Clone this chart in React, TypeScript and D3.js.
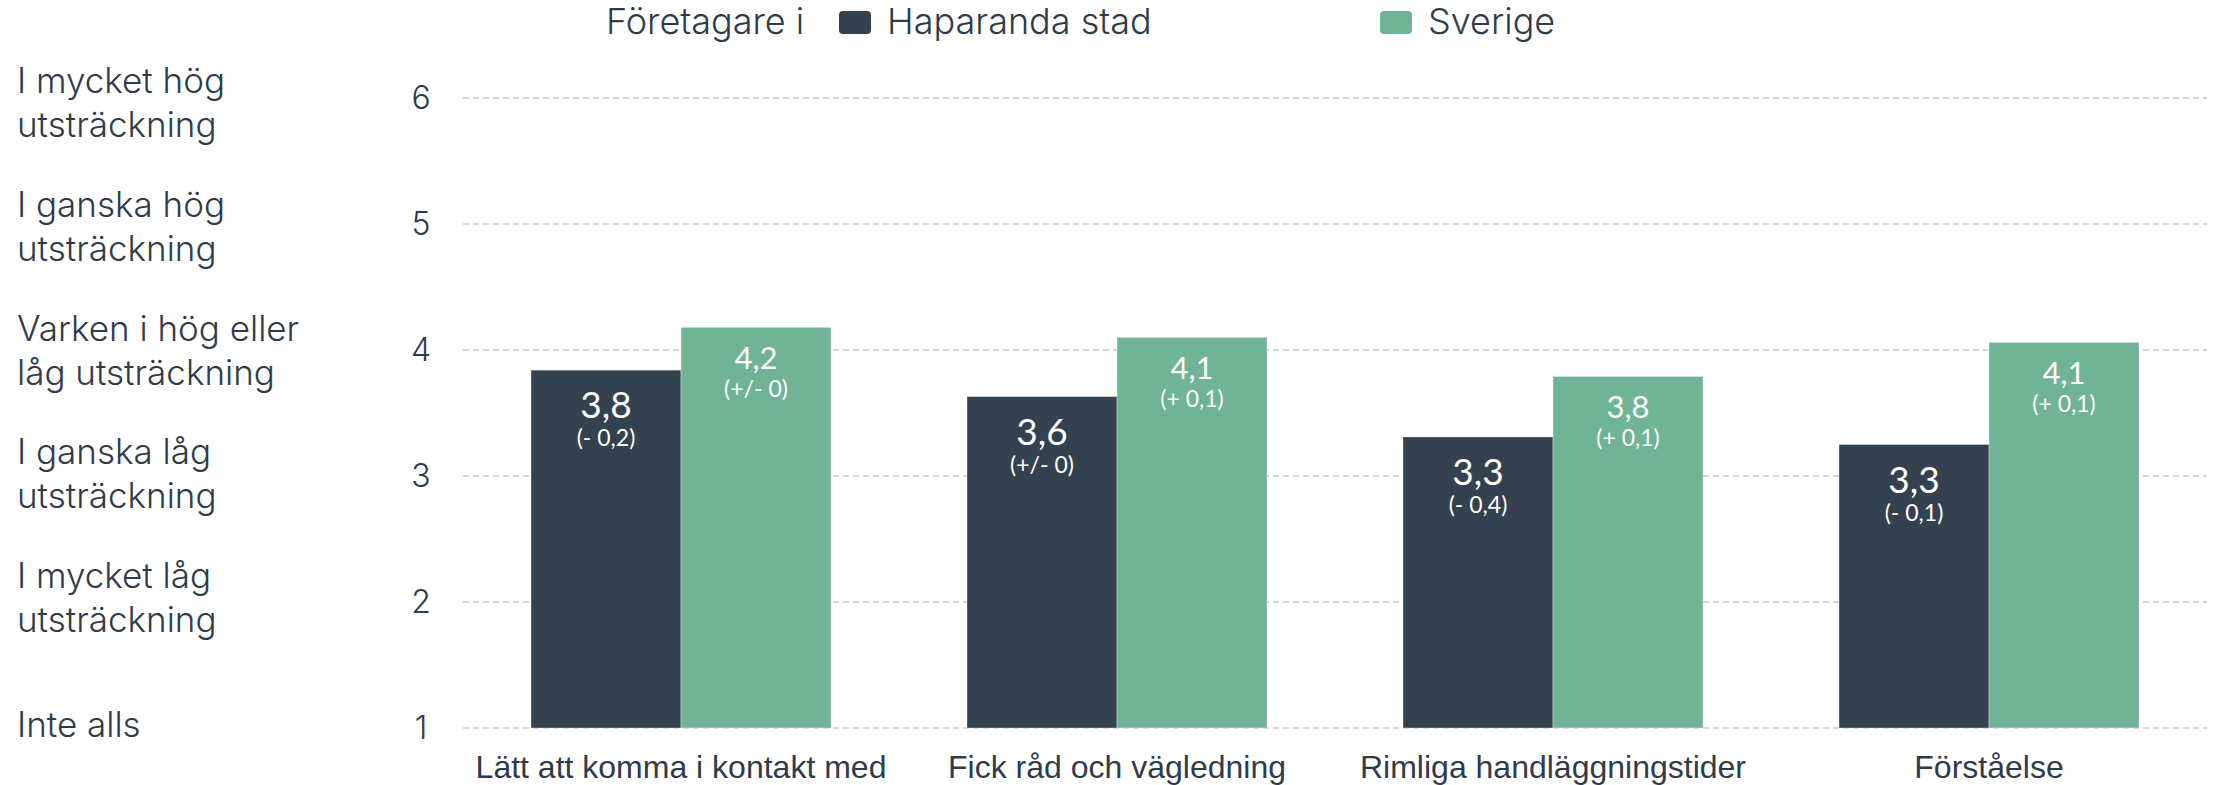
import React from "react";
import * as d3 from "d3";

// data
const categories = [
  "Lätt att komma i kontakt med",
  "Fick råd och vägledning",
  "Rimliga handläggningstider",
  "Förståelse",
];
const seriesNames = ["Haparanda stad", "Sverige"];
const haparandaValues = [3.84, 3.63, 3.31, 3.25];
const sverigeValues = [4.18, 4.1, 3.79, 4.06];
const haparandaLabels = ["3,8", "3,6", "3,3", "3,3"];
const sverigeLabels = ["4,2", "4,1", "3,8", "4,1"];
const haparandaChange = ["(- 0,2)", "(+/- 0)", "(- 0,4)", "(- 0,1)"];
const sverigeChange = ["(+/- 0)", "(+ 0,1)", "(+ 0,1)", "(+ 0,1)"];
const yTicks = [1, 2, 3, 4, 5, 6];
const scaleLabels = [
  ["Inte alls"],
  ["I mycket låg", "utsträckning"],
  ["I ganska låg", "utsträckning"],
  ["Varken i hög eller", "låg utsträckning"],
  ["I ganska hög", "utsträckning"],
  ["I mycket hög", "utsträckning"],
];

const W = 2216;
const H = 785;
const plotLeft = 463;
const plotRight = 2207;
const plotTop = 98;
const plotBottom = 728;

const darkColor = "#34414f";
const greenColor = "#70b397";
const textColor = "#2f3b4a";
const sansFont = "Inter, 'Open Sans', sans-serif";
const valueFont = "Lato, 'Open Sans', sans-serif";
const axisFont = "'Liberation Sans', Arial, sans-serif";

const series = [
  {
    name: seriesNames[0],
    values: haparandaValues,
    labels: haparandaLabels,
    change: haparandaChange,
    color: darkColor,
    valueSize: 37,
    valueDy: 48,
    changeDy: 76,
  },
  {
    name: seriesNames[1],
    values: sverigeValues,
    labels: sverigeLabels,
    change: sverigeChange,
    color: greenColor,
    valueSize: 31,
    valueDy: 42,
    changeDy: 70,
  },
];

const GridLines = ({ y }) => (
  <g>
    {yTicks.map((t) => (
      <g key={t} transform={`translate(0,${y(t)})`}>
        <line
          x1={plotLeft}
          x2={plotRight}
          y1="0"
          y2="0"
          stroke="#c9c9c9"
          strokeWidth="1.3"
          strokeDasharray="6,4"
        />
        <text
          x="421"
          y="11"
          textAnchor="middle"
          fontFamily={sansFont}
          fontWeight="300"
          fontSize="32"
          fill={textColor}
        >
          {t}
        </text>
      </g>
    ))}
  </g>
);

const ScaleLabels = () => {
  // first-line baselines of the two-line labels
  const labelY = d3.scaleLinear().domain([6, 2]).range([93, 588]);
  return (
    <g fontFamily={sansFont} fontWeight="300" fontSize="35" fill={textColor}>
      {scaleLabels.map((lines, i) => {
        const tick = yTicks[i];
        const base = lines.length === 1 ? labelY(tick) + 25 : labelY(tick);
        return (
          <text key={i} x="17" y={base}>
            {lines.map((l, k) => (
              <tspan key={k} x="17" dy={k === 0 ? 0 : 44}>
                {l}
              </tspan>
            ))}
          </text>
        );
      })}
    </g>
  );
};

const Bars = ({ x, inner, y }) => (
  <g>
    {series.map((s, j) => (
      <g key={j}>
        {s.values.map((v, i) => {
          const bx = x(categories[i]) + inner(String(j));
          const by = y(v);
          const cx = bx + inner.bandwidth() / 2;
          return (
            <g key={i}>
              <rect
                x={bx}
                y={by}
                width={inner.bandwidth()}
                height={y(1) - by}
                fill={s.color}
                stroke="#ffffff"
                strokeOpacity="0.35"
                strokeWidth="1"
              />
              <text
                x={cx}
                y={by + s.valueDy}
                textAnchor="middle"
                fontFamily={valueFont}
                fontSize={s.valueSize}
                fill="#ffffff"
              >
                {s.labels[i]}
              </text>
              <text
                x={cx}
                y={by + s.changeDy}
                textAnchor="middle"
                fontFamily={valueFont}
                fontSize="23"
                fill="#ffffff"
              >
                {s.change[i]}
              </text>
            </g>
          );
        })}
      </g>
    ))}
  </g>
);

const XLabels = ({ x }) => (
  <g fontFamily={axisFont} fontSize="32" fill={textColor}>
    {categories.map((c) => (
      <text key={c} x={x(c) + x.bandwidth() / 2} y="778" textAnchor="middle">
        {c}
      </text>
    ))}
  </g>
);

const Legend = () => {
  const items = [
    { name: seriesNames[0], color: darkColor, x: 839 },
    { name: seriesNames[1], color: greenColor, x: 1380 },
  ];
  return (
    <g fontFamily={sansFont} fontWeight="300" fontSize="36" fill={textColor}>
      <text x="606" y="34">
        Företagare i
      </text>
      {items.map((it) => (
        <g key={it.name} transform={`translate(${it.x},0)`}>
          <rect x="0" y="11" width="32" height="23" rx="4" fill={it.color} />
          <text x="48" y="34">
            {it.name}
          </text>
        </g>
      ))}
    </g>
  );
};

export default function App() {
  const y = d3.scaleLinear().domain([1, 6]).range([plotBottom, plotTop]);
  const x = d3
    .scaleBand()
    .domain(categories)
    .range([plotLeft, plotRight])
    .paddingInner(0.312)
    .paddingOuter(0.156);
  const inner = d3
    .scaleBand()
    .domain(["0", "1"])
    .range([0, x.bandwidth()]);

  return (
    <svg
      width={W}
      height={H}
      style={{ position: "absolute", left: 0, top: 0, background: "#fff" }}
    >
      <GridLines y={y} />
      <ScaleLabels />
      <Bars x={x} inner={inner} y={y} />
      <XLabels x={x} />
      <Legend />
    </svg>
  );
}
